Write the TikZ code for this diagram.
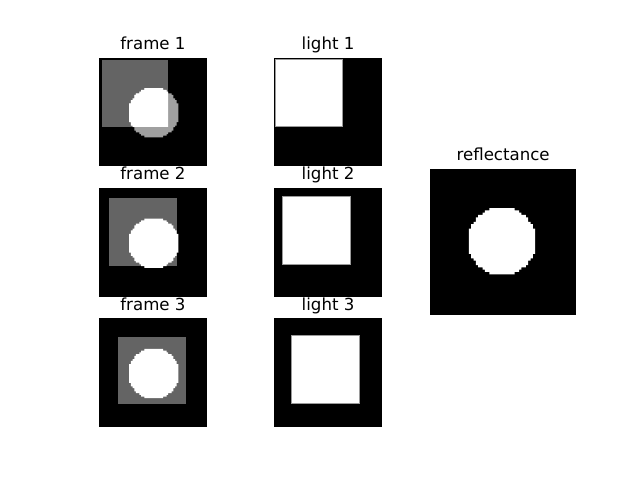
\documentclass[tikz,border=0pt]{standalone}
\usepackage{fontspec}
\setmainfont{DejaVu Sans}
\usepackage{xcolor}
\usepackage{tikz}
\usetikzlibrary{positioning}
\definecolor{framegray}{HTML}{646464}
\definecolor{rimgray}{HTML}{A0A0A0}
\definecolor{edgegray}{HTML}{9A9A9A}
% pixel disc of a 64x64 image: pixels with dx^2+dy^2<225 round pixel (#1,#2)
\newcommand{\pixdisc}[2]{%
  ({#1-5},{#2-14})
  \foreach \dy [evaluate=\dy as \hw using {int(floor(sqrt(224-(\dy)*(\dy))))}] in {-14,...,14}{
    -- ({#1+\hw+1},{#2+\dy}) -- ({#1+\hw+1},{#2+\dy+1})}
  \foreach \dy [evaluate=\dy as \hw using {int(floor(sqrt(224-(\dy)*(\dy))))}] in {14,13,...,-14}{
    -- ({#1-\hw},{#2+\dy+1}) -- ({#1-\hw},{#2+\dy})}
  -- cycle}
\tikzset{
  ttl/.style={font=\fontsize{12}{14}\selectfont, anchor=base, inner sep=0pt},
  lightsq/.style={fill=white, draw=edgegray, line width=0.4pt},
}

\begin{document}
\begin{tikzpicture}[x=0.01in, y=-0.01in]
\useasboundingbox[fill=white] (0,0) rectangle (640,480);

% ===================== column 1: frames =====================
\begin{scope}[shift={(98.6,57.6)}, scale=1.698]
  \fill[black] (0,0) rectangle (64,64);
  \fill[framegray] (2,1.5) rectangle (41,40.6);
  \fill[rimgray] \pixdisc{32}{32};
  \begin{scope}
    \clip (2,1.5) rectangle (41,40.6);
    \fill[white] \pixdisc{32}{32};
  \end{scope}
\end{scope}
\begin{scope}[shift={(98.6,188.0)}, scale=1.698]
  \fill[black] (0,0) rectangle (64,64);
  \fill[framegray] (6.2,6.1) rectangle (46.3,45.9);
  \fill[white] \pixdisc{32}{32};
\end{scope}
\begin{scope}[shift={(98.6,318.4)}, scale=1.698]
  \fill[black] (0,0) rectangle (64,64);
  \fill[framegray] (11.2,10.8) rectangle (51.5,50.6);
  \fill[white] \pixdisc{32}{32};
\end{scope}
\node[ttl] (tframe1) at (152.95,49.3) {frame 1};
\node[ttl] (tframe2) at (152.95,179.7) {frame 2};
\node[ttl] (tframe3) at (152.95,310.1) {frame 3};

% ===================== column 2: lights =====================
\begin{scope}[shift={(273.7,57.6)}, scale=1.698]
  \fill[black] (0,0) rectangle (64,64);
  \draw[lightsq] (0.9,1.0) rectangle (40.6,40.2);
\end{scope}
\begin{scope}[shift={(273.7,188.0)}, scale=1.698]
  \fill[black] (0,0) rectangle (64,64);
  \draw[lightsq] (5.1,5.1) rectangle (45.3,44.9);
\end{scope}
\begin{scope}[shift={(273.7,318.4)}, scale=1.698]
  \fill[black] (0,0) rectangle (64,64);
  \draw[lightsq] (10.2,9.9) rectangle (50.4,50.0);
\end{scope}
\node[ttl] (tlight1) at (328.05,49.3) {light 1};
\node[ttl] (tlight2) at (328.05,179.7) {light 2};
\node[ttl] (tlight3) at (328.05,310.1) {light 3};

% ===================== column 3: reflectance =====================
\begin{scope}[shift={(430.2,169.4)}, scale=2.28]
  \fill[black] (0,0) rectangle (64,64);
  \fill[white] \pixdisc{31}{31};
\end{scope}
\node[ttl] (trefl) at (503.15,161.0) {reflectance};

\end{tikzpicture}
\end{document}
